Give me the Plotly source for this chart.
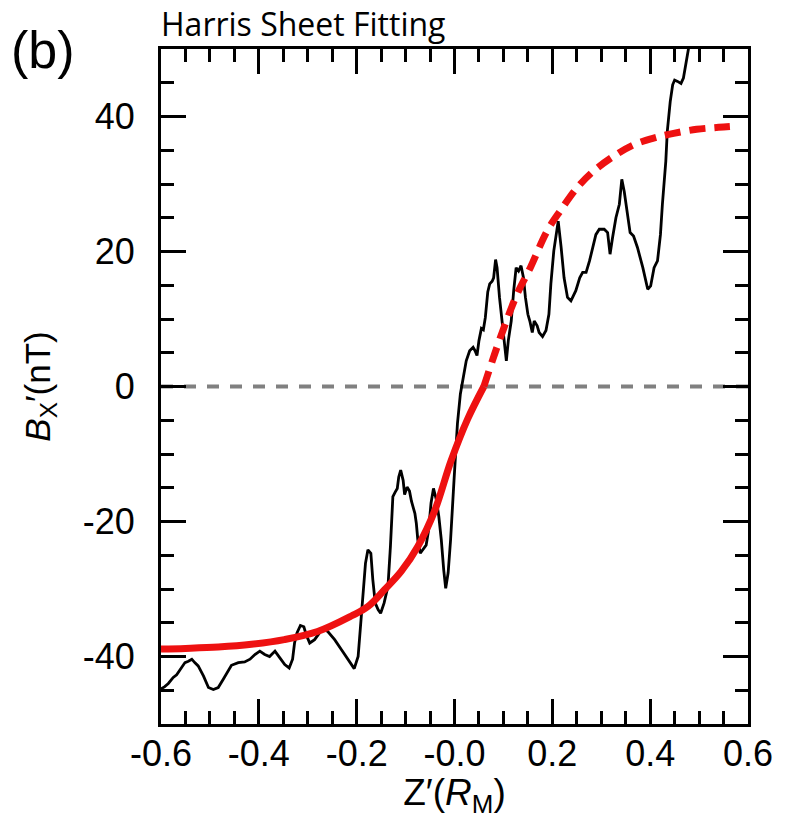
import plotly.graph_objects as go

# ---- data ----
obs_z = [-0.600, -0.593, -0.585, -0.575, -0.568, -0.561, -0.551, -0.544, -0.537, -0.531,
         -0.524, -0.513, -0.503, -0.493, -0.483, -0.473, -0.462, -0.456, -0.442, -0.429,
         -0.418, -0.408, -0.398, -0.388, -0.378, -0.367, -0.357, -0.347, -0.338, -0.331,
         -0.327, -0.322, -0.315, -0.308, -0.303, -0.296, -0.286, -0.276, -0.269, -0.259,
         -0.245, -0.231, -0.218, -0.205, -0.197, -0.192, -0.187, -0.182, -0.177, -0.171,
         -0.167, -0.162, -0.156, -0.151, -0.144, -0.136, -0.131, -0.126, -0.121, -0.117,
         -0.114, -0.110, -0.105, -0.102, -0.097, -0.092, -0.088, -0.085, -0.081, -0.078,
         -0.075, -0.070, -0.064, -0.058, -0.053, -0.048, -0.043, -0.037, -0.032, -0.027,
         -0.022, -0.018, -0.013, -0.008, -0.001, 0.006, 0.012, 0.019, 0.024, 0.031,
         0.038, 0.042, 0.046, 0.050, 0.055, 0.059, 0.063, 0.068, 0.072, 0.077,
         0.080, 0.084, 0.087, 0.092, 0.099, 0.106, 0.110, 0.116, 0.121, 0.126,
         0.131, 0.136, 0.141, 0.145, 0.150, 0.154, 0.159, 0.163, 0.169, 0.173,
         0.180, 0.187, 0.193, 0.197, 0.203, 0.208, 0.212, 0.218, 0.224, 0.231,
         0.238, 0.248, 0.256, 0.262, 0.269, 0.276, 0.282, 0.289, 0.296, 0.306,
         0.313, 0.318, 0.323, 0.330, 0.337, 0.342, 0.347, 0.354, 0.359, 0.366,
         0.374, 0.385, 0.395, 0.401, 0.408, 0.415, 0.421, 0.425, 0.432, 0.435,
         0.441, 0.446, 0.450, 0.456, 0.463, 0.468, 0.473, 0.478, 0.483]
obs_bx = [-44.8, -44.5, -44.0, -43.1, -42.7, -41.9, -40.9, -40.7, -40.4, -40.9,
          -41.4, -42.9, -44.6, -44.9, -44.6, -43.4, -41.9, -41.3, -40.9, -40.8,
          -40.4, -39.7, -39.2, -39.7, -40.0, -39.2, -40.2, -41.2, -41.7, -40.4,
          -38.0, -36.5, -35.4, -35.6, -36.8, -38.0, -37.5, -36.5, -35.8, -36.3,
          -37.5, -39.0, -40.4, -41.8, -40.0, -35.0, -30.1, -26.2, -24.2, -24.7,
          -28.6, -32.1, -33.1, -33.6, -32.1, -29.6, -23.7, -16.3, -15.6, -15.1,
          -13.4, -12.4, -13.9, -16.0, -14.9, -15.5, -17.0, -17.8, -18.8, -20.3,
          -22.7, -24.7, -24.0, -23.5, -21.3, -17.3, -15.1, -16.8, -19.3, -22.7,
          -27.2, -29.9, -27.6, -22.7, -13.9, -5.5, -1.1, 1.9, 3.8, 5.3,
          5.8, 5.3, 4.6, 6.8, 8.6, 8.4, 10.2, 14.0, 15.2, 15.6,
          16.1, 18.8, 17.6, 13.2, 8.3, 3.8, 6.8, 9.7, 14.2, 17.6,
          17.1, 17.9, 16.1, 13.2, 10.7, 9.7, 8.0, 9.7, 9.0, 8.0,
          7.4, 8.3, 10.7, 15.2, 20.1, 22.5, 24.5, 20.6, 16.1, 13.2,
          12.7, 14.2, 16.1, 16.9, 16.9, 18.6, 20.6, 22.5, 23.3, 23.3,
          22.8, 19.6, 22.0, 25.0, 27.0, 30.7, 28.9, 25.5, 22.8, 22.3,
          20.6, 17.6, 14.4, 14.9, 17.6, 18.6, 22.5, 27.0, 33.4, 37.8,
          42.2, 44.7, 45.4, 45.2, 44.9, 45.7, 47.6, 49.6, 52.0]

fit_solid_z = [-0.600, -0.550, -0.483, -0.415, -0.348, -0.280, -0.211, -0.177, -0.143,
               -0.109, -0.075, -0.041, -0.007, 0.027, 0.060]
fit_solid_bx = [-38.9, -38.8, -38.6, -38.2, -37.5, -36.3, -34.0, -32.6, -30.1,
                -27.4, -23.7, -18.5, -11.0, -4.8, 0.0]
fit_dash_z = [0.060, 0.094, 0.128, 0.155, 0.189, 0.216, 0.250, 0.284, 0.325, 0.366,
              0.407, 0.448, 0.495, 0.540, 0.578]
fit_dash_bx = [0.0, 7.3, 13.7, 17.6, 23.0, 26.0, 29.4, 31.9, 34.1, 35.8,
               36.8, 37.5, 38.1, 38.4, 38.6]

zero_z = [-0.6, 0.6]
zero_bx = [0, 0]

x_tickvals = [-0.6, -0.4, -0.2, 0.0, 0.2, 0.4, 0.6]
x_ticktext = ["-0.6", "-0.4", "-0.2", "-0.0", "0.2", "0.4", "0.6"]
y_tickvals = [-40, -20, 0, 20, 40]
y_ticktext = ["-40", "-20", "0", "20", "40"]

RED = "#ee1111"
FONT = "Liberation Sans, Arial, Helvetica, sans-serif"

W, H = 790, 818
ML, MR, MT, MB = 161, 42, 49, 94
PW, PH = W - ML - MR, H - MT - MB

fig = go.Figure()
fig.add_trace(go.Scatter(x=zero_z, y=zero_bx, mode="lines",
                         line=dict(color="#808080", width=4, dash="12px,11px"),
                         showlegend=False, hoverinfo="skip"))
fig.add_trace(go.Scatter(x=obs_z, y=obs_bx, mode="lines",
                         line=dict(color="black", width=2.8),
                         showlegend=False))
fig.add_trace(go.Scatter(x=fit_solid_z, y=fit_solid_bx, mode="lines",
                         line=dict(color=RED, width=7, shape="spline"),
                         showlegend=False))
fig.add_trace(go.Scatter(x=fit_dash_z, y=fit_dash_bx, mode="lines",
                         line=dict(color=RED, width=7, dash="16px,9px", shape="spline"),
                         showlegend=False))

axis_common = dict(
    showline=True, linecolor="black", linewidth=3, mirror="allticks",
    ticks="inside", ticklen=25, tickwidth=2.5, tickcolor="black",
    showgrid=False, zeroline=False,
    tickfont=dict(family=FONT, size=36, color="black"),
)

fig.update_xaxes(range=[-0.6, 0.6], tickmode="array", tickvals=x_tickvals, ticktext=x_ticktext,
                 minor=dict(dtick=0.05, tick0=-0.6, ticks="inside", ticklen=13, tickwidth=2.5,
                            tickcolor="black", showgrid=False),
                 ticklabelstandoff=-4,
                 title=dict(text="Z′(<i>R</i><sub>M</sub>)", font=dict(family=FONT, size=37, color="black"),
                            standoff=2),
                 **axis_common)
fig.update_yaxes(range=[-50, 50], tickmode="array", tickvals=y_tickvals, ticktext=y_ticktext,
                 minor=dict(dtick=5, tick0=0, ticks="inside", ticklen=13, tickwidth=2.5,
                            tickcolor="black", showgrid=False),
                 ticklabelstandoff=16,
                 title=dict(text="<i>B</i><sub>X</sub>′(nT)", font=dict(family=FONT, size=35, color="black"),
                            standoff=22),
                 **axis_common)

fig.update_layout(
    width=W, height=H,
    margin=dict(l=ML, r=MR, t=MT, b=MB, autoexpand=False),
    plot_bgcolor="white", paper_bgcolor="white",
    title=dict(text="Harris Sheet Fitting", font=dict(family="Open Sans, sans-serif", size=32, color="black"),
               x=ML / W, xanchor="left", xref="container",
               y=1 - 25 / H, yanchor="middle", yref="container"),
    annotations=[dict(text="(b)", xref="paper", yref="paper",
                      x=(9 - ML) / PW, y=(MT + PH - 50) / PH, xanchor="left", yanchor="middle",
                      showarrow=False, font=dict(family=FONT, size=52, color="black"))],
)

# remove the browser's default 8px page margin so the figure fills the window exactly
fig.write_html("out.html", config={"displayModeBar": False},
               post_script="document.body.style.margin='0';")
